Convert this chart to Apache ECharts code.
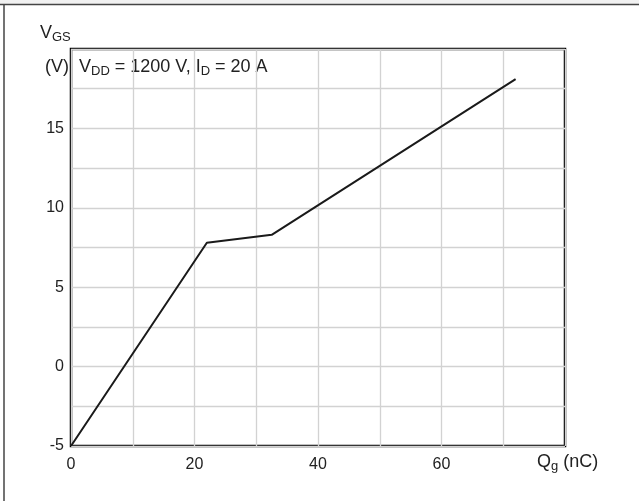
<!DOCTYPE html>
<html>
<head>
<meta charset="utf-8">
<script src="https://cdn.jsdelivr.net/npm/echarts@6/dist/echarts.min.js"></script>
<style>
  html, body { margin: 0; padding: 0; background: #fff; }
  #chart { width: 639px; height: 501px; }
</style>
</head>
<body>
<div id="chart"></div>
<script>
// gate charge curve
const qg = [0, 22, 32.5, 72]
const vgs = [-5, 7.8, 8.3, 18.1]
const xLabels = [0, 20, 40, 60]
const yLabels = [-5, 0, 5, 10, 15]

const font = 'Liberation Sans, Arial, sans-serif'
const txt = '#222'
const rich = {
  m: { fontSize: 18, fontFamily: font, fill: txt, lineHeight: 22 },
  s: { fontSize: 13, fontFamily: font, fill: txt, lineHeight: 2, verticalAlign: 'bottom' }
}
const chart = echarts.init(document.getElementById('chart'))

chart.setOption({
  animation: false,
  grid: {
    left: 71,
    top: 49,
    right: 74,
    bottom: 55,
    show: true,
    borderColor: '#000',
    borderWidth: 2.5
  },
  xAxis: {
    type: 'value',
    min: 0,
    max: 80,
    interval: 10,
    axisLine: { show: false },
    axisTick: { show: false },
    splitLine: { lineStyle: { color: '#d2d2d2', width: 1.3 } },
    axisLabel: {
      margin: 11,
      color: txt,
      fontFamily: font,
      fontSize: 16,
      formatter: v => xLabels.includes(v) ? String(v) : ''
    }
  },
  yAxis: {
    type: 'value',
    min: -5,
    max: 20,
    interval: 2.5,
    axisLine: { show: false },
    axisTick: { show: false },
    splitLine: { lineStyle: { color: '#d2d2d2', width: 1.3 } },
    axisLabel: {
      margin: 7,
      color: txt,
      fontFamily: font,
      fontSize: 16,
      formatter: v => yLabels.includes(v) ? String(v) : ''
    }
  },
  series: [{
    type: 'line',
    data: qg.map((x, i) => [x, vgs[i]]),
    symbol: 'none',
    lineStyle: { color: '#1a1a1a', width: 2 }
  }],
  graphic: [
    // outer frame
    { type: 'rect', shape: { x: 0, y: 0, width: 639, height: 4 }, style: { fill: '#f1f1f1' }, silent: true },
    { type: 'line', shape: { x1: 0, y1: 4.5, x2: 639, y2: 4.5 }, style: { stroke: '#444', lineWidth: 1.5 }, silent: true },
    { type: 'line', shape: { x1: 4, y1: 4, x2: 4, y2: 501 }, style: { stroke: '#444', lineWidth: 1.5 }, silent: true },
    // axis titles
    { type: 'text', left: 40, top: 24, style: { text: '{m|V}{s|GS}', rich } },
    { type: 'text', left: 45, top: 58, style: { text: '{m|(V)}', rich } },
    { type: 'text', left: 79, top: 58, style: { text: '{m|V}{s|DD}{m| = 1200 V, I}{s|D}{m| = 20 A}', rich } },
    { type: 'text', left: 537, top: 453, style: { text: '{m|Q}{s|g}{m| (nC)}', rich } }
  ]
})
</script>
</body>
</html>
